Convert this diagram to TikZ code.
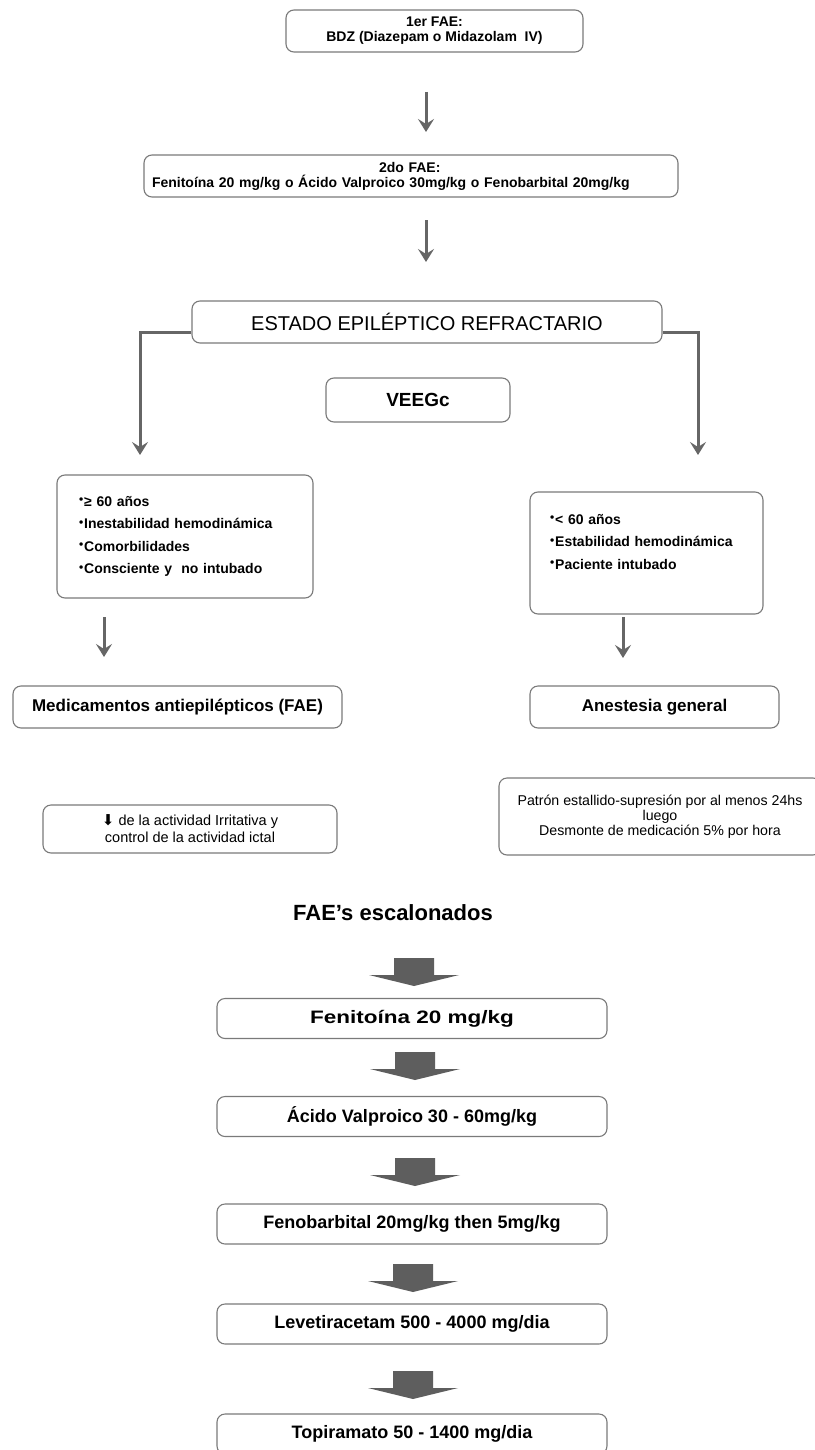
\documentclass[tikz,border=0pt]{standalone}
\usepackage{fontspec}
\setmainfont{Liberation Sans}
\newfontfamily\dejavu{DejaVu Sans}
\usetikzlibrary{arrows.meta,calc}
\definecolor{boxgray}{HTML}{7A7A7A}
\definecolor{arrgray}{HTML}{666666}
\definecolor{blockgray}{HTML}{5E5E5E}
\newcommand\fs[2]{\fontsize{#1}{#2}\selectfont}
\newcommand\bul{\raisebox{2.5pt}{\fs{12}{12}•}\hspace{1pt}}
\tikzset{
  box/.style={draw=boxgray, line width=1.1pt, rounded corners=8pt, fill=white, inner sep=0pt, align=center},
  thinarr/.style={draw=arrgray, line width=3pt, -{Stealth[length=13pt,width=16pt,inset=5pt]}},
  blockarrow/.pic={\fill[blockgray] (-20,0) -- (20,0) -- (20,17) -- (45,17) -- (0,28) -- (-45,17) -- (-20,17) -- cycle;},
  chainbox/.style={box, minimum width=390pt, minimum height=40pt, font=\fs{18}{20}\bfseries}
}
\begin{document}
\begin{tikzpicture}[x=1pt,y=-1pt]
\useasboundingbox[fill=white] (0,0) rectangle (814,1450);

% top boxes
\node[box, minimum width=297pt, minimum height=42pt, font=\fs{14}{15}\bfseries] (b1) at (434.5,31) {1er FAE:\\BDZ (Diazepam o Midazolam\ \ IV)};
\node[box, minimum height=42pt, text width=518pt, inner xsep=8pt, align=left, font=\fs{14}{15}\bfseries] (b2) at (411,176)
  {\hspace*{227pt}2do FAE:\\Fenitoína 20 mg/kg o Ácido Valproico 30mg/kg o Fenobarbital 20mg/kg};

\coordinate (a1s) at (426,92);  \coordinate (a1e) at (426,132);
\coordinate (a2s) at (426,220); \coordinate (a2e) at (426,262);
\draw[thinarr] (a1s) -- (a1e);
\draw[thinarr] (a2s) -- (a2e);

% refractory status
\node[box, minimum width=470pt, minimum height=42pt, font=\fs{20}{22}] (est) at (427,322) {ESTADO EPILÉPTICO REFRACTARIO};
\node[box, minimum width=184pt, minimum height=44pt, font=\fs{19}{21}\bfseries] (veeg) at (418,400) {VEEGc};

\coordinate (lt) at (140,455);
\coordinate (rt) at (698,455);
\draw[thinarr] ([yshift=-10pt]est.west) -| (lt);
\draw[thinarr] ([yshift=-10pt]est.east) -| (rt);

% criteria boxes
\node[box, minimum height=123pt, text width=212pt, inner xsep=22pt, align=left, font=\fs{14}{22.5}\bfseries] (lb) at (185,536.5)
  {\bul≥ 60 años\\\bul Inestabilidad hemodinámica\\\bul Comorbilidades\\\bul Consciente y\ \ no intubado};
\node[box, minimum height=122pt, text width=193pt, inner xsep=20pt, align=left, font=\fs{14}{22.5}\bfseries] (rb) at (646.5,553)
  {\bul < 60 años\\\bul Estabilidad hemodinámica\\\bul Paciente intubado\\\mbox{}};

\coordinate (a3s) at (104,617); \coordinate (a3e) at (104,657);
\coordinate (a4s) at (623,617); \coordinate (a4e) at (623,658);
\draw[thinarr] (a3s) -- (a3e);
\draw[thinarr] (a4s) -- (a4e);

\node[box, minimum width=329pt, minimum height=42pt, font=\fs{17}{19}\bfseries] (med) at (177.5,707) {Medicamentos antiepilépticos (FAE)};
\node[box, minimum width=249pt, minimum height=42pt, font=\fs{17}{19}\bfseries] (ane) at (654.5,707) {Anestesia general};

% outcome boxes
\node[box, minimum width=294pt, minimum height=48pt, font=\fs{14.5}{17}] (irr) at (190,829)
  {{\dejavu\fs{15}{17}⬇} de la actividad Irritativa y\\control de la actividad ictal};
\node[box, minimum width=322pt, minimum height=77pt, font=\fs{14.2}{15.2}] (pat) at (660,816.5)
  {Patrón estallido-supresión por al menos 24hs\\luego\\Desmonte de medicación 5\% por hora};

% stepped FAE
\node[font=\fs{22}{24}\bfseries, inner sep=0pt] (tit) at (393,913) {FAE’s escalonados};

\node[chainbox] (f1) at (412,1018.5) {\scalebox{1.25}[1]{Fenitoína 20 mg/kg}};
\node[chainbox] (f2) at (412,1116.5) {Ácido Valproico 30 - 60mg/kg};
\node[chainbox] (f3) at (412,1224) {Fenobarbital 20mg/kg then 5mg/kg};
\node[chainbox] (f4) at (412,1324) {Levetiracetam 500 - 4000 mg/dia};
\node[chainbox] (f5) at (412,1434) {Topiramato 50 - 1400 mg/dia};

\pic at (414,958) {blockarrow};
\pic at (415,1052) {blockarrow};
\pic at (415,1158) {blockarrow};
\pic at (413,1264) {blockarrow};
\pic at (413,1371) {blockarrow};
\end{tikzpicture}
\end{document}
